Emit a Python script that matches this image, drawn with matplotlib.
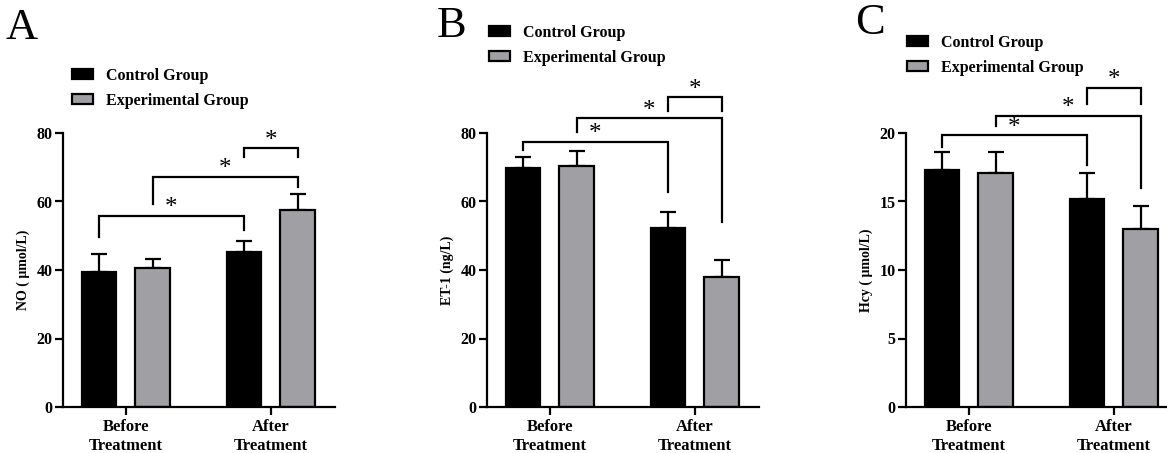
import matplotlib
matplotlib.use("Agg")
import matplotlib.pyplot as plt
from matplotlib.patches import Patch
import numpy as np

# ---- data ----
categories = ["Before\nTreatment", "After\nTreatment"]
series = ["Control Group", "Experimental Group"]
colors = ["#000000", "#a0a0a4"]

no_control = [39.4, 45.3]
no_control_err = [5.3, 3.2]
no_exp = [40.6, 57.5]
no_exp_err = [2.6, 4.8]

et_control = [69.8, 52.2]
et_control_err = [3.2, 4.8]
et_exp = [70.4, 38.1]
et_exp_err = [4.4, 4.8]

hcy_control = [17.3, 15.2]
hcy_control_err = [1.3, 1.9]
hcy_exp = [17.1, 13.0]
hcy_exp_err = [1.5, 1.7]

ylabels = ["NO ( \u03bcmol/L)", "ET-1 (ng/L)", "Hcy ( \u03bcmol/L)"]
ylims = [(0, 80), (0, 80), (0, 20)]
yticks = [[0, 20, 40, 60, 80], [0, 20, 40, 60, 80], [0, 5, 10, 15, 20]]
letters = ["A", "B", "C"]

# significance brackets: (bar_from, bar_to, line level, left leg end, right leg end)
# bar index: 0 ctrl-before, 1 exp-before, 2 ctrl-after, 3 exp-after
no_brackets = [(0, 2, 55.8, 49.7, 51.7), (1, 3, 67.2, 59.3, 64.2), (2, 3, 75.6, 73.0, 73.0)]
et_brackets = [(0, 2, 77.5, 75.0, 62.9), (1, 3, 84.3, 80.3, 54.0), (2, 3, 90.5, 86.4, 86.4)]
hcy_brackets = [(0, 2, 19.85, 19.0, 17.7), (1, 3, 21.25, 20.5, 16.0), (2, 3, 23.3, 22.1, 22.1)]

panels = [
    (no_control, no_control_err, no_exp, no_exp_err, no_brackets),
    (et_control, et_control_err, et_exp, et_exp_err, et_brackets),
    (hcy_control, hcy_control_err, hcy_exp, hcy_exp_err, hcy_brackets),
]

# ---- style ----
W, H = 1167, 453
plt.rcParams["font.family"] = ["Liberation Serif", "DejaVu Serif"]
plt.rcParams["font.weight"] = "bold"
fig = plt.figure(figsize=(W / 100, H / 100), dpi=100)

axes_px = [63, 487, 906]       # left of y axis
axis_w = 272
top_px, bot_px = 133, 407
legend_pos = [(72, 68), (489, 25), (907, 35)]
letter_pos = [(6, 8), (437, 6), (855, 3)]

off = 0.186
bw = 0.24
lw = 1.6

for i, (ctrl, ctrl_e, exp, exp_e, brackets) in enumerate(panels):
    ax = fig.add_axes([axes_px[i] / W, 1 - bot_px / H, axis_w / W, (bot_px - top_px) / H])
    x = np.arange(len(categories))
    xs = [x - off, x + off]
    for j, (vals, errs) in enumerate([(ctrl, ctrl_e), (exp, exp_e)]):
        ax.errorbar(xs[j], vals, yerr=[np.zeros(len(vals)), errs], fmt="none",
                    ecolor="black", elinewidth=lw, capsize=6, capthick=lw, zorder=1)
        ax.bar(xs[j], vals, width=bw, color=colors[j], edgecolor="black",
               linewidth=lw, zorder=2)
    ax.set_xlim(-0.434, 1.442)
    ax.set_ylim(*ylims[i])
    ax.set_yticks(yticks[i])
    ax.set_xticks(x)
    ax.set_xticklabels(categories, fontsize=12, fontweight="bold", linespacing=1.25)
    for lab in ax.get_yticklabels():
        lab.set_fontsize(11.5)
        lab.set_fontweight("bold")
    ax.spines["top"].set_visible(False)
    ax.spines["right"].set_visible(False)
    ax.spines["left"].set_linewidth(lw)
    ax.spines["bottom"].set_linewidth(lw)
    ax.tick_params(width=lw, length=5.5, direction="out", pad=2)
    ax.tick_params(axis="x", pad=3)
    ax.set_ylabel(ylabels[i], fontsize=10, fontweight="bold", labelpad=5)

    bar_x = [xs[0][0], xs[1][0], xs[0][1], xs[1][1]]
    for (a, b, lvl, la, lb) in brackets:
        ax.plot([bar_x[a], bar_x[a], bar_x[b], bar_x[b]], [la, lvl, lvl, lb],
                color="black", lw=lw, clip_on=False, solid_joinstyle="miter")
        ax.annotate("*", xy=((bar_x[a] + bar_x[b]) / 2, lvl), xytext=(0, 1),
                    textcoords="offset points", ha="center", va="baseline",
                    fontsize=18, fontweight="normal", annotation_clip=False)

    handles = [Patch(facecolor=colors[k], edgecolor="black", linewidth=lw) for k in range(2)]
    lx, ly = legend_pos[i]
    fig.legend(handles, series, loc="upper left", bbox_to_anchor=(lx / W, 1 - ly / H),
               bbox_transform=fig.transFigure, frameon=False, borderpad=0,
               borderaxespad=0, handlelength=1.3, handleheight=0.6,
               handletextpad=0.8, labelspacing=0.55,
               prop={"family": "Liberation Serif", "weight": "bold", "size": 11.5})

    px, py = letter_pos[i]
    fig.text(px / W, 1 - py / H, letters[i], fontsize=32, fontweight="normal",
             ha="left", va="top")

fig.savefig("out.png", dpi=100)
